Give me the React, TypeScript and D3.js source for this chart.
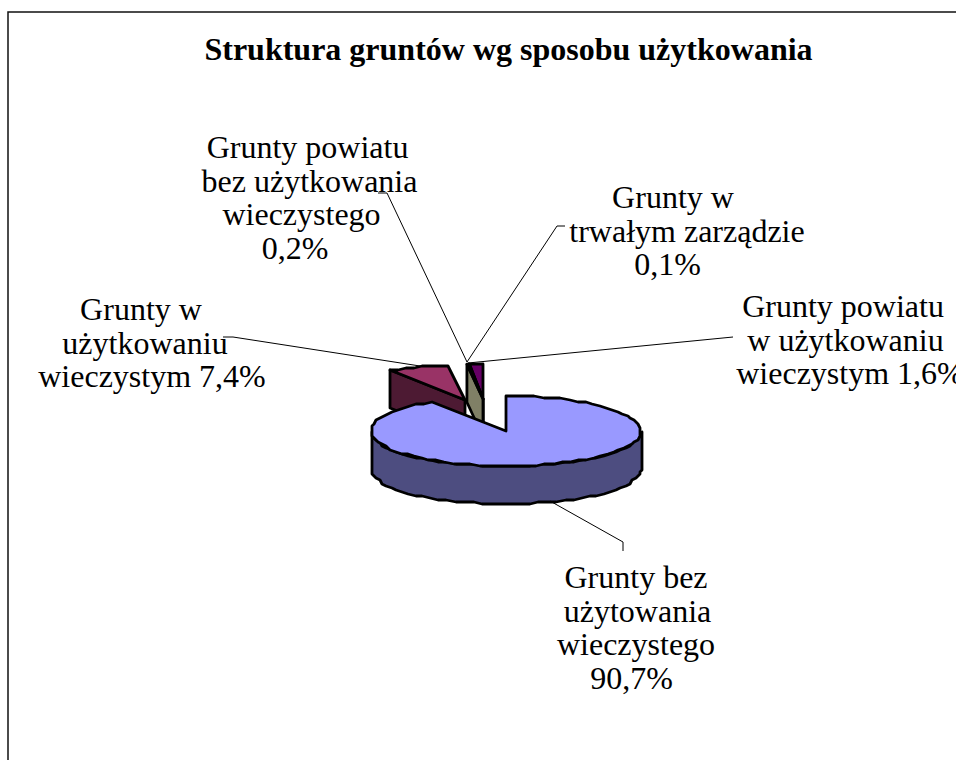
import React from 'react';
import * as d3 from 'd3';

const titleText = 'Struktura gruntów wg sposobu użytkowania';
const categories = [
  'Grunty bez użytowania wieczystego',
  'Grunty w użytkowaniu wieczystym',
  'Grunty powiatu bez użytkowania wieczystego',
  'Grunty w trwałym zarządzie',
  'Grunty powiatu w użytkowaniu wieczystym',
];
const values = [90.7, 7.4, 0.2, 0.1, 1.6];
const topColors = ['#9999ff', '#993366', '#ffffcc', '#ccffff', '#660066'];
const sideColors = ['#4d4d80', '#4d1a33', '#808066', '#668080', '#330033'];

// how far each slice was dragged out of the pie
const offsets: [number, number][] = [[0, 0], [-41, -31], [-23, -32], [-23, -32], [-23, -32]];

const labelLines = [
  ['Grunty bez', 'użytowania', 'wieczystego', '90,7%'],
  ['Grunty w', 'użytkowaniu', 'wieczystym 7,4%'],
  ['Grunty powiatu', 'bez użytkowania', 'wieczystego', '0,2%'],
  ['Grunty w', 'trwałym zarządzie', '0,1%'],
  ['Grunty powiatu', 'w użytkowaniu', 'wieczystym 1,6%'],
];
// the lines in the reference are not quite centred on each other
const labelCentres = [
  [636, 637.5, 636, 631.5],
  [141, 145, 152],
  [307.5, 309.5, 301.5, 295],
  [673, 687, 667.5],
  [843, 845.5, 850],
];
const labelTops = [588, 320, 158, 208, 317];
const leaders: [number, number][][] = [
  [[623, 551], [623, 542], [550, 501]],
  [[223, 337], [233, 337], [420, 366]],
  [[378, 193], [387, 193], [467, 362]],
  [[565, 226], [557, 226], [467, 362]],
  [[733, 337], [468, 363]],
];

const cx = 506;
const cy = 431;
const rx = 135;
const ry = 35;
const depth = 38;
const lineHeight = 33.7;
const font = '"Liberation Serif", "Times New Roman", serif';

// the reference edge is a slightly stair-stepped polygon
const snap = (v: number) => Math.round(v / 2) * 2;

const rim = (a0: number, a1: number, ox: number, oy: number) => {
  const n = Math.max(1, Math.ceil((a1 - a0) / 0.07));
  return d3.range(n + 1).map((i) => {
    const a = a0 + ((a1 - a0) * i) / n;
    const x = cx + ox + rx * Math.sin(a);
    const y = cy + oy - ry * Math.cos(a);
    return (n > 3 ? [snap(x), snap(y)] : [x, y]) as [number, number];
  });
};

const path = d3.line();

export default function App() {
  const arcs = d3.pie<number>().sort(null)(values);
  // back slices first, the big slice covers them
  const order = [1, 4, 3, 2, 0];

  return (
    <svg width={956} height={760} style={{ position: 'absolute', left: 0, top: 0 }} fontFamily={font}>
      <rect x={8} y={12} width={1000} height={800} fill="#fff" stroke="#111" strokeWidth={1.5} />
      <text x={508.5} y={60} textAnchor="middle" fontSize={32} fontWeight="bold" fill="#000">{titleText}</text>

      {order.map((i) => {
        const d = arcs[i];
        const [ox, oy] = offsets[i];
        const ax = cx + ox;
        const ay = cy + oy;
        const top = rim(d.startAngle, d.endAngle, ox, oy);
        const first = top[0];
        const facePath = path([[ax, ay], ...top])! + 'Z';
        const wall = path([[ax, ay], first, [first[0], first[1] + depth], [ax, ay + depth]])! + 'Z';
        // front rim is only there for the part of the slice facing the viewer
        const from = Math.max(d.startAngle, Math.PI / 2);
        const to = Math.min(d.endAngle, (3 * Math.PI) / 2);
        const front = from < to ? rim(from, to, ox, oy) : [];
        const frontPath = front.length
          ? path([...front, ...front.slice().reverse().map(([x, y]) => [x, y + depth] as [number, number])])! + 'Z'
          : null;
        return (
          <g key={categories[i]} stroke="#000" strokeWidth={2.8} strokeLinejoin="round">
            {i !== 0 && <path d={wall} fill={sideColors[i]} />}
            {frontPath && <path d={frontPath} fill={sideColors[i]} />}
            <path d={facePath} fill={topColors[i]} />
          </g>
        );
      })}

      {leaders.map((pts, i) => (
        <path key={i} d={path(pts)!} fill="none" stroke="#000" strokeWidth={1} />
      ))}

      {labelLines.map((lines, i) => (
        <text key={i} textAnchor="middle" fontSize={32} fill="#000">
          {lines.map((line, j) => (
            <tspan key={j} x={labelCentres[i][j]} y={labelTops[i] + j * lineHeight}>{line}</tspan>
          ))}
        </text>
      ))}
    </svg>
  );
}
